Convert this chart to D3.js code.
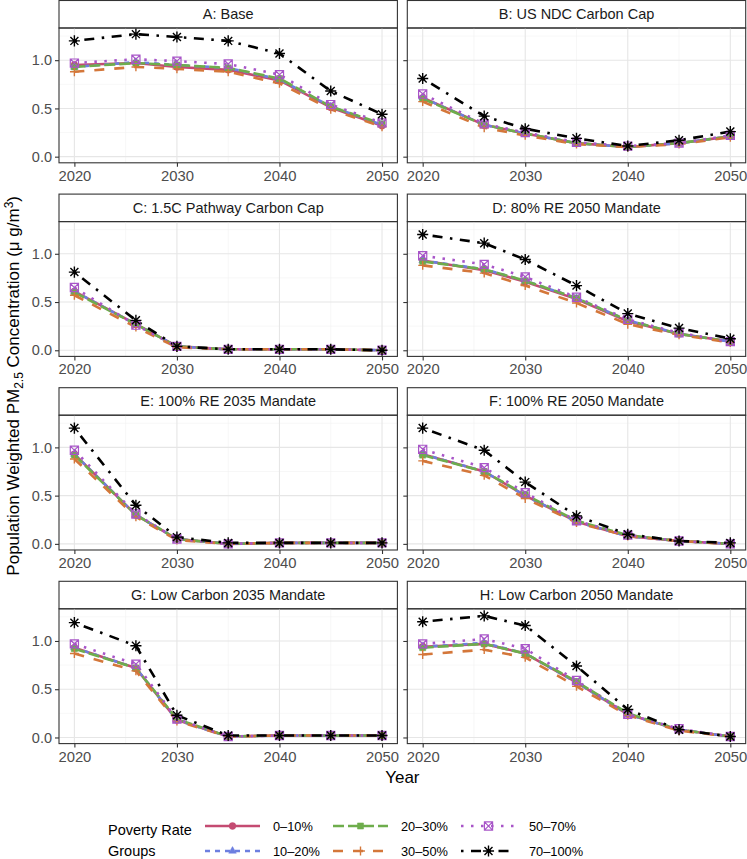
<!DOCTYPE html>
<html>
<head>
<meta charset="utf-8">
<script src="https://cdn.jsdelivr.net/npm/d3@7/dist/d3.min.js"></script>
<style>
html,body{margin:0;padding:0;background:#fff;}
svg{display:block;font-family:"Liberation Sans",Arial,Helvetica,sans-serif;}
</style>
</head>
<body>
<svg id="chart" width="747" height="859"></svg>
<script>
// ---------------- DATA ----------------
const years = [2020, 2026, 2030, 2035, 2040, 2045, 2050];
const groups = ["0–10%", "10–20%", "20–30%", "30–50%", "50–70%", "70–100%"];
const scenarios = ["A: Base", "B: US NDC Carbon Cap", "C: 1.5C Pathway Carbon Cap", "D: 80% RE 2050 Mandate",
  "E: 100% RE 2035 Mandate", "F: 100% RE 2050 Mandate", "G: Low Carbon 2035 Mandate", "H: Low Carbon 2050 Mandate"];
const xTicks = [2020, 2030, 2040, 2050];
const yTicks = [0, 0.5, 1.0];

// values per scenario: rows = groups (0–10 … 70–100), columns = years
const valsA = [
  [0.95, 0.97, 0.93, 0.90, 0.79, 0.51, 0.32],
  [0.93, 0.98, 0.95, 0.92, 0.80, 0.52, 0.33],
  [0.93, 0.97, 0.95, 0.92, 0.81, 0.52, 0.34],
  [0.88, 0.93, 0.91, 0.88, 0.76, 0.49, 0.31],
  [0.97, 1.01, 0.99, 0.96, 0.85, 0.54, 0.35],
  [1.20, 1.27, 1.24, 1.20, 1.07, 0.68, 0.44]];
const valsB = [
  [0.61, 0.33, 0.24, 0.14, 0.10, 0.14, 0.21],
  [0.61, 0.33, 0.24, 0.14, 0.10, 0.14, 0.21],
  [0.60, 0.33, 0.24, 0.14, 0.10, 0.14, 0.21],
  [0.57, 0.30, 0.22, 0.13, 0.10, 0.13, 0.20],
  [0.65, 0.34, 0.25, 0.15, 0.11, 0.14, 0.22],
  [0.81, 0.42, 0.29, 0.19, 0.11, 0.17, 0.26]];
const valsC = [
  [0.61, 0.27, 0.04, 0.01, 0.01, 0.01, 0.00],
  [0.61, 0.27, 0.04, 0.01, 0.01, 0.01, 0.00],
  [0.60, 0.27, 0.04, 0.01, 0.01, 0.01, 0.00],
  [0.57, 0.24, 0.03, 0.01, 0.01, 0.01, 0.00],
  [0.65, 0.26, 0.04, 0.01, 0.01, 0.01, 0.00],
  [0.81, 0.31, 0.04, 0.01, 0.01, 0.01, 0.00]];
const valsD = [
  [0.93, 0.83, 0.71, 0.53, 0.30, 0.17, 0.09],
  [0.93, 0.84, 0.72, 0.54, 0.31, 0.17, 0.09],
  [0.92, 0.84, 0.72, 0.54, 0.31, 0.17, 0.09],
  [0.88, 0.80, 0.67, 0.49, 0.27, 0.16, 0.08],
  [0.98, 0.89, 0.76, 0.55, 0.32, 0.18, 0.09],
  [1.20, 1.11, 0.94, 0.67, 0.38, 0.23, 0.12]];
const valsE = [
  [0.93, 0.30, 0.05, 0.00, 0.01, 0.01, 0.01],
  [0.93, 0.30, 0.05, 0.00, 0.01, 0.01, 0.01],
  [0.92, 0.30, 0.05, 0.00, 0.01, 0.01, 0.01],
  [0.88, 0.28, 0.04, 0.00, 0.01, 0.01, 0.01],
  [0.97, 0.31, 0.05, 0.00, 0.01, 0.01, 0.01],
  [1.20, 0.40, 0.07, 0.01, 0.01, 0.01, 0.01]];
const valsF = [
  [0.93, 0.75, 0.50, 0.23, 0.08, 0.03, 0.00],
  [0.93, 0.75, 0.50, 0.23, 0.08, 0.03, 0.00],
  [0.92, 0.75, 0.51, 0.24, 0.09, 0.03, 0.00],
  [0.86, 0.71, 0.47, 0.22, 0.08, 0.03, 0.00],
  [0.98, 0.79, 0.53, 0.24, 0.09, 0.03, 0.00],
  [1.20, 0.97, 0.64, 0.29, 0.10, 0.03, 0.01]];
const valsG = [
  [0.93, 0.72, 0.18, 0.01, 0.02, 0.02, 0.02],
  [0.93, 0.72, 0.18, 0.01, 0.02, 0.02, 0.02],
  [0.92, 0.72, 0.19, 0.01, 0.02, 0.02, 0.02],
  [0.87, 0.69, 0.17, 0.01, 0.02, 0.02, 0.02],
  [0.97, 0.76, 0.19, 0.01, 0.02, 0.02, 0.02],
  [1.19, 0.95, 0.23, 0.02, 0.02, 0.02, 0.02]];
const valsH = [
  [0.94, 0.97, 0.87, 0.57, 0.24, 0.08, 0.01],
  [0.94, 0.98, 0.87, 0.57, 0.24, 0.08, 0.01],
  [0.93, 0.97, 0.87, 0.58, 0.25, 0.08, 0.01],
  [0.86, 0.91, 0.83, 0.53, 0.23, 0.07, 0.01],
  [0.97, 1.02, 0.92, 0.59, 0.24, 0.09, 0.01],
  [1.20, 1.26, 1.16, 0.74, 0.29, 0.08, 0.01]];
const allVals = [valsA, valsB, valsC, valsD, valsE, valsF, valsG, valsH];

// ---------------- STYLE ----------------
const colors = ["#C44B72", "#6D7FE0", "#6EAD4C", "#D4773A", "#A855C8", "#000000"];
const dashes = ["none", "5,5", "11,4", "10,10", "2.5,7.5", "2.5,7.5,10,7.5"];
const shapes = ["circle", "triangle", "square", "plus", "boxx", "asterisk"];

function shapePath(kind, s) {
  switch (kind) {
    case "circle": return d3.symbol(d3.symbolCircle, Math.PI * s * s)();
    case "triangle": return d3.symbol(d3.symbolTriangle, s * s * 2.2)();
    case "square": return d3.symbol(d3.symbolSquare, s * s * 3.2)();
    case "plus": return `M${-s * 1.3},0H${s * 1.3}M0,${-s * 1.3}V${s * 1.3}`;
    case "boxx": { const h = s * 1.2; return `M${-h},${-h}H${h}V${h}H${-h}ZM${-h},${-h}L${h},${h}M${h},${-h}L${-h},${h}`; }
    case "asterisk": { const a = s * 1.5, b = a * 0.72; return `M${-a},0H${a}M0,${-a}V${a}M${-b},${-b}L${b},${b}M${b},${-b}L${-b},${b}`; }
  }
}
function drawMarker(g, kind, color, x, y, s) {
  const filled = kind === "circle" || kind === "triangle" || kind === "square";
  g.append("path").attr("d", shapePath(kind, s))
    .attr("transform", `translate(${x},${y})`)
    .attr("fill", filled ? color : "none")
    .attr("stroke", color)
    .attr("stroke-width", filled ? 0.5 : (kind === "boxx" ? 1.2 : 1.4));
}

// ---------------- LAYOUT ----------------
const svg = d3.select("#chart");
const colX = [59, 407.3];
const panelW = 338.4;
const rowY = [0.5, 194.1, 387.7, 581.3];
const stripH = 27.5;
const panelH = 134.8;

const x = d3.scaleLinear().domain([2018.5, 2051.5]).range([0, panelW]);
const y = d3.scaleLinear().domain([-0.0635, 1.3335]).range([panelH, 0]);
const line = d3.line().x((d, i) => x(years[i])).y(d => y(d));

scenarios.forEach((name, k) => {
  const c = k % 2, r = Math.floor(k / 2);
  const px = colX[c], st = rowY[r], py = st + stripH;

  // strip
  svg.append("rect").attr("x", px).attr("y", st).attr("width", panelW).attr("height", stripH)
    .attr("fill", "#ffffff").attr("stroke", "#333333").attr("stroke-width", 1.1);
  svg.append("text").attr("x", px + panelW / 2).attr("y", st + stripH / 2 + 5)
    .attr("text-anchor", "middle").attr("font-size", 14.5).attr("fill", "#1a1a1a").text(name);

  const g = svg.append("g").attr("transform", `translate(${px},${py})`);
  // grid
  const minorY = [0.25, 0.75, 1.25], minorX = [2025, 2035, 2045];
  g.selectAll(".gmy").data(minorY).enter().append("line")
    .attr("x1", 0).attr("x2", panelW).attr("y1", d => y(d)).attr("y2", d => y(d))
    .attr("stroke", "#f2f2f2").attr("stroke-width", 0.6);
  g.selectAll(".gmx").data(minorX).enter().append("line")
    .attr("y1", 0).attr("y2", panelH).attr("x1", d => x(d)).attr("x2", d => x(d))
    .attr("stroke", "#f2f2f2").attr("stroke-width", 0.6);
  g.selectAll(".gy").data(yTicks).enter().append("line")
    .attr("x1", 0).attr("x2", panelW).attr("y1", d => y(d)).attr("y2", d => y(d))
    .attr("stroke", "#e6e6e6").attr("stroke-width", 1.1);
  g.selectAll(".gx").data(xTicks).enter().append("line")
    .attr("y1", 0).attr("y2", panelH).attr("x1", d => x(d)).attr("x2", d => x(d))
    .attr("stroke", "#e6e6e6").attr("stroke-width", 1.1);

  const vals = allVals[k];
  // lines
  vals.forEach((series, gi) => {
    g.append("path").attr("d", line(series)).attr("fill", "none")
      .attr("stroke", colors[gi]).attr("stroke-width", 2.6)
      .attr("stroke-dasharray", dashes[gi]).attr("stroke-linecap", "butt")
      .attr("stroke-linejoin", "round");
  });
  // points
  vals.forEach((series, gi) => {
    series.forEach((v, i) => drawMarker(g, shapes[gi], colors[gi], x(years[i]), y(v), gi === 5 ? 3.7 : 3.4));
  });

  // border
  g.append("rect").attr("x", 0).attr("y", 0).attr("width", panelW).attr("height", panelH)
    .attr("fill", "none").attr("stroke", "#333333").attr("stroke-width", 1.1);

  // x axis
  const xa = g.append("g").attr("transform", `translate(0,${panelH})`)
    .call(d3.axisBottom(x).tickValues(xTicks).tickFormat(d3.format("d")).tickSize(4).tickSizeOuter(0));
  xa.select(".domain").remove();
  xa.selectAll("line").attr("stroke", "#333333").attr("stroke-width", 1.1);
  xa.selectAll("text").attr("font-size", 14.8).attr("fill", "#4d4d4d").attr("font-family", "Liberation Sans, Arial, sans-serif").attr("dy", "0.75em").attr("y", 7);

  // y axis
  const ya = g.append("g")
    .call(d3.axisLeft(y).tickValues(yTicks).tickFormat(d3.format(".1f")).tickSize(4).tickSizeOuter(0));
  ya.select(".domain").remove();
  ya.selectAll("line").attr("stroke", "#333333").attr("stroke-width", 1.1);
  ya.selectAll("text").attr("font-size", 14.5).attr("fill", "#4d4d4d").attr("font-family", "Liberation Sans, Arial, sans-serif").attr("x", -7);
  if (c === 1) ya.selectAll("text").remove();
});

// axis titles
svg.append("text").attr("x", colX[0] + (colX[1] + panelW - colX[0]) / 2).attr("y", 783)
  .attr("text-anchor", "middle").attr("font-size", 17).attr("fill", "#000").text("Year");

const yt = svg.append("text").attr("transform", `translate(19,${(rowY[0] + stripH + rowY[3] + stripH + panelH) / 2}) rotate(-90)`)
  .attr("text-anchor", "middle").attr("font-size", 17).attr("fill", "#000");
yt.append("tspan").text("Population Weighted PM");
yt.append("tspan").attr("font-size", 12).attr("dy", 4).text("2.5");
yt.append("tspan").attr("dy", -4).text(" Concentration (μ g/m");
yt.append("tspan").attr("font-size", 12).attr("dy", -6).text("3");
yt.append("tspan").attr("dy", 6).text(")");

// legend
const leg = svg.append("g");
leg.append("text").attr("x", 108).attr("y", 835).attr("font-size", 14.5).attr("fill", "#000").text("Poverty Rate");
leg.append("text").attr("x", 108).attr("y", 856).attr("font-size", 14.5).attr("fill", "#000").text("Groups");
const legColX = [205, 333, 461];
const legRowY = [826, 851];
groups.forEach((gname, gi) => {
  const cc = Math.floor(gi / 2), rr = gi % 2;
  const lx = legColX[cc], ly = legRowY[rr];
  leg.append("line").attr("x1", lx).attr("x2", lx + 55).attr("y1", ly).attr("y2", ly)
    .attr("stroke", colors[gi]).attr("stroke-width", 2.6).attr("stroke-dasharray", dashes[gi]);
  drawMarker(leg, shapes[gi], colors[gi], lx + 27.5, ly, gi === 5 ? 3.7 : 3.4);
  leg.append("text").attr("x", lx + 68).attr("y", ly + 4.5).attr("font-size", 12.8).attr("fill", "#000").text(gname);
});
</script>
</body>
</html>
